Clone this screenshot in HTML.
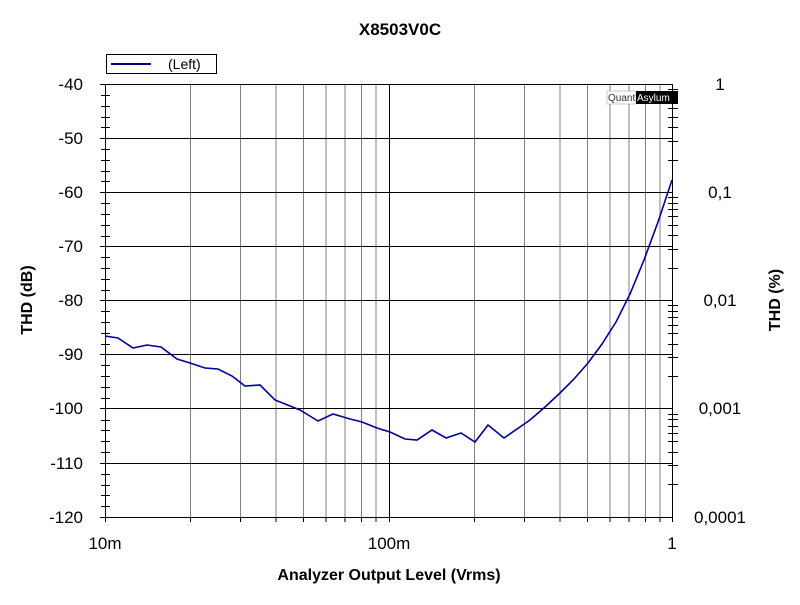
<!DOCTYPE html>
<html><head><style>body{margin:0;background:#fff}svg text{font-family:"Liberation Sans",Arial,sans-serif}</style></head>
<body>
<svg width="800" height="600" xmlns="http://www.w3.org/2000/svg">
<rect width="800" height="600" fill="#fff"/>
<text x="400" y="35" font-size="17" font-weight="bold" text-anchor="middle">X8503V0C</text>
<rect x="106.5" y="54.5" width="110" height="19" fill="#fff" stroke="#000" stroke-width="1"/>
<line x1="111" y1="64" x2="151" y2="64" stroke="#000080" stroke-width="2"/>
<text x="168" y="69" font-size="14">(Left)</text>
<g stroke="#808080" stroke-width="1">
<line x1="190.5" y1="84" x2="190.5" y2="517"/><line x1="240.5" y1="84" x2="240.5" y2="517"/><line x1="276" y1="84" x2="276" y2="517"/><line x1="303.5" y1="84" x2="303.5" y2="517"/><line x1="326" y1="84" x2="326" y2="517"/><line x1="345" y1="84" x2="345" y2="517"/><line x1="361.5" y1="84" x2="361.5" y2="517"/><line x1="376" y1="84" x2="376" y2="517"/>
<line x1="474.5" y1="84" x2="474.5" y2="517"/><line x1="524.5" y1="84" x2="524.5" y2="517"/><line x1="560" y1="84" x2="560" y2="517"/><line x1="587.5" y1="84" x2="587.5" y2="517"/><line x1="610" y1="84" x2="610" y2="517"/><line x1="629" y1="84" x2="629" y2="517"/><line x1="645.5" y1="84" x2="645.5" y2="517"/><line x1="660" y1="84" x2="660" y2="517"/>
</g>
<g stroke="#000" stroke-width="1">
<line x1="389.5" y1="84" x2="389.5" y2="517"/>
<line x1="100" y1="84.5" x2="673" y2="84.5"/><line x1="100" y1="138.5" x2="673" y2="138.5"/><line x1="100" y1="192.5" x2="673" y2="192.5"/><line x1="100" y1="246.5" x2="673" y2="246.5"/><line x1="100" y1="300.5" x2="673" y2="300.5"/><line x1="100" y1="354.5" x2="673" y2="354.5"/><line x1="100" y1="408.5" x2="673" y2="408.5"/><line x1="100" y1="463.5" x2="673" y2="463.5"/><line x1="100" y1="517.5" x2="673" y2="517.5"/>
<line x1="105.5" y1="84" x2="105.5" y2="522"/><line x1="672.5" y1="84" x2="672.5" y2="522"/>
</g>
<path stroke="#000" stroke-width="1" fill="none" d="M101 95.5h9M101 106.5h9M101 117.5h9M101 127.5h9M101 149.5h9M101 160.5h9M101 171.5h9M101 181.5h9M101 203.5h9M101 214.5h9M101 225.5h9M101 236.5h9M101 257.5h9M101 268.5h9M101 279.5h9M101 290.5h9M101 311.5h9M101 322.5h9M101 333.5h9M101 344.5h9M101 365.5h9M101 376.5h9M101 387.5h9M101 398.5h9M101 420.5h9M101 430.5h9M101 441.5h9M101 452.5h9M101 474.5h9M101 485.5h9M101 495.5h9M101 506.5h9
M668 484.5h10M668 465.5h10M668 452.5h10M668 441.5h10M668 433.5h10M668 426.5h10M668 419.5h10M668 414.5h10
M668 376.5h10M668 357.5h10M668 344.5h10M668 333.5h10M668 325.5h10M668 317.5h10M668 311.5h10M668 305.5h10
M668 268.5h10M668 249.5h10M668 235.5h10M668 225.5h10M668 216.5h10M668 209.5h10M668 203.5h10M668 197.5h10
M668 160.5h10M668 141.5h10M668 127.5h10M668 117.5h10M668 108.5h10M668 101.5h10M668 94.5h10M668 89.5h10
M190.5 517v5M240.5 517v5M276 517v5M303.5 517v5M326 517v5M345 517v5M361.5 517v5M376 517v5M389.5 517v5M474.5 517v5M524.5 517v5M560 517v5M587.5 517v5M610 517v5M629 517v5M645.5 517v5M660 517v5"/>
<rect x="607" y="91" width="29" height="13" fill="#fff" stroke="#999" stroke-width="0.5"/>
<rect x="636" y="91" width="42" height="13" fill="#000"/>
<text x="608" y="101" font-size="10" fill="#333">Quant</text>
<text x="637" y="101" font-size="10" fill="#fff">Asylum</text>
<polyline fill="none" stroke="#0000a0" stroke-width="1.6" points="105,336 118,338 133,348 147,345 161,347 177,359 190,363 205,368 218,369 232,376 245,386 260,385 275,400 300,410 318,421 333,414 350,419 362,422 377,428 390,432 405,439 417,440 432,430 446,438 461,433 475,442 488,425 504,438 530,420 545,407 560,393 574,379 588,363 602,344 616,322 630,294 644,260 658,222 672,180"/>
<g font-size="17" text-anchor="end">
<text x="83" y="90">-40</text><text x="83" y="144">-50</text><text x="83" y="198">-60</text><text x="83" y="252">-70</text><text x="83" y="306">-80</text><text x="83" y="360">-90</text><text x="83" y="414">-100</text><text x="83" y="469">-110</text><text x="83" y="523">-120</text>
</g>
<g font-size="17" text-anchor="middle">
<text x="720" y="90">1</text><text x="720" y="198">0,1</text><text x="720" y="306">0,01</text><text x="720" y="414">0,001</text><text x="720" y="523">0,0001</text>
<text x="105" y="549">10m</text><text x="389" y="549">100m</text><text x="672" y="549">1</text>
</g>
<text x="389" y="580" font-size="16" font-weight="bold" text-anchor="middle">Analyzer Output Level (Vrms)</text>
<text transform="translate(32,300) rotate(-90)" font-size="16" font-weight="bold" text-anchor="middle">THD (dB)</text>
<text transform="translate(780,300) rotate(-90)" font-size="16" font-weight="bold" text-anchor="middle">THD (%)</text>
</svg>
</body></html>
